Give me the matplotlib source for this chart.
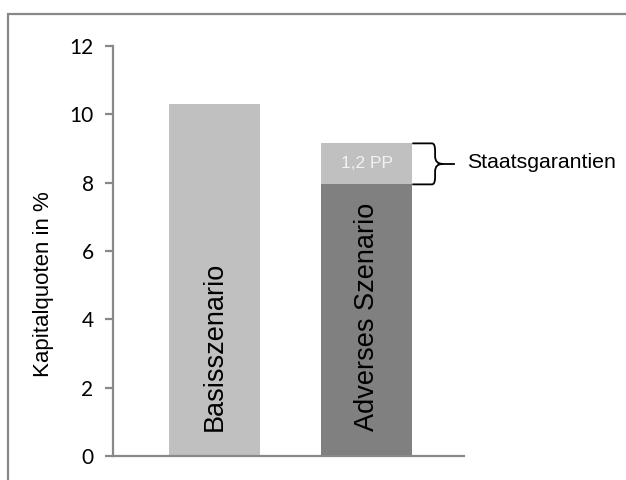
import matplotlib
matplotlib.use("Agg")
import matplotlib.pyplot as plt
from matplotlib.patches import Rectangle, PathPatch
from matplotlib.path import Path

categories = ["Basisszenario", "Adverses Szenario"]
base_values = [10.3, 7.95]
guarantee_values = [0.0, 1.2]
guarantee_label = "1,2 PP"
brace_label = "Staatsgarantien"
y_ticks = [0, 2, 4, 6, 8, 10, 12]
y_label = "Kapitalquoten in %"

fig = plt.figure(figsize=(6.26, 4.8), dpi=100)
W, H = 626, 480
ax = fig.add_axes([113 / W, 24 / H, (464 - 113) / W, (456 - 46) / H])

x = list(range(len(categories)))
base_colors = ["#C0C0C0", "#808080"]
ax.bar(x, base_values, width=0.6, color=base_colors, zorder=2)
ax.bar(x, guarantee_values, bottom=base_values, width=0.6, color="#C0C0C0", zorder=2)

ax.set_xlim(-0.668, 1.64)
ax.set_ylim(0, 12)
ax.set_yticks(y_ticks)
ax.set_yticklabels([str(t) for t in y_ticks], fontfamily="Lato", fontsize=15)
ax.set_xticks([])
for s in ["top", "right"]:
    ax.spines[s].set_visible(False)
for s in ["left", "bottom"]:
    ax.spines[s].set_color("#888888")
    ax.spines[s].set_linewidth(1.6)
ax.tick_params(axis="y", direction="out", length=6, width=1.6, color="#888888", pad=8)

# category labels inside bars
for xi, cat in zip(x, categories):
    ax.text(xi, 0.72, cat, rotation=90, ha="center", va="bottom",
            fontsize=19.5, fontfamily="Liberation Sans", color="black", zorder=3)

# guarantee label
gx = x[1]
gb = base_values[1]
gt = base_values[1] + guarantee_values[1]
ax.text(gx, (gb + gt) / 2, guarantee_label, ha="center", va="center",
        fontsize=12.5, fontfamily="Liberation Sans", color="#F2F2F2", zorder=3)

# brace
x0, x1, x2, x3 = 1.3, 1.45, 1.5, 1.575
ym = (gb + gt) / 2
r = 0.22
verts = [
    (x0, gt), (x1 - 0.02, gt), (x1, gt), (x1, gt - r),
    (x1, ym + r), (x1, ym), (x2, ym),
    (x1, ym), (x1, ym - r),
    (x1, gb + r), (x1, gb), (x1 - 0.02, gb), (x0, gb),
]
codes = [Path.MOVETO, Path.LINETO, Path.CURVE3, Path.CURVE3,
         Path.LINETO, Path.CURVE3, Path.CURVE3,
         Path.CURVE3, Path.CURVE3,
         Path.LINETO, Path.CURVE3, Path.CURVE3, Path.LINETO]
brace = PathPatch(Path(verts, codes), fill=False, edgecolor="black", linewidth=1.3,
                  clip_on=False, zorder=4)
ax.add_patch(brace)
ax.plot([x2, x3], [ym, ym], color="black", linewidth=1.3, clip_on=False, zorder=4)
ax.text(1.66, ym + 0.05, brace_label, ha="left", va="center", fontsize=15.3,
        fontfamily="Liberation Sans", color="black", clip_on=False)

fig.text(44 / W, 1 - 284 / H, y_label, rotation=90, ha="center", va="center",
         fontsize=16, fontfamily="Liberation Sans")

# figure frame
frame = Rectangle((8 / W, -0.2), 1.2, (480 - 14) / H + 0.2, transform=fig.transFigure,
                  fill=False, edgecolor="#888888", linewidth=1.6)
fig.patches.append(frame)

fig.savefig("out.png", dpi=100)
